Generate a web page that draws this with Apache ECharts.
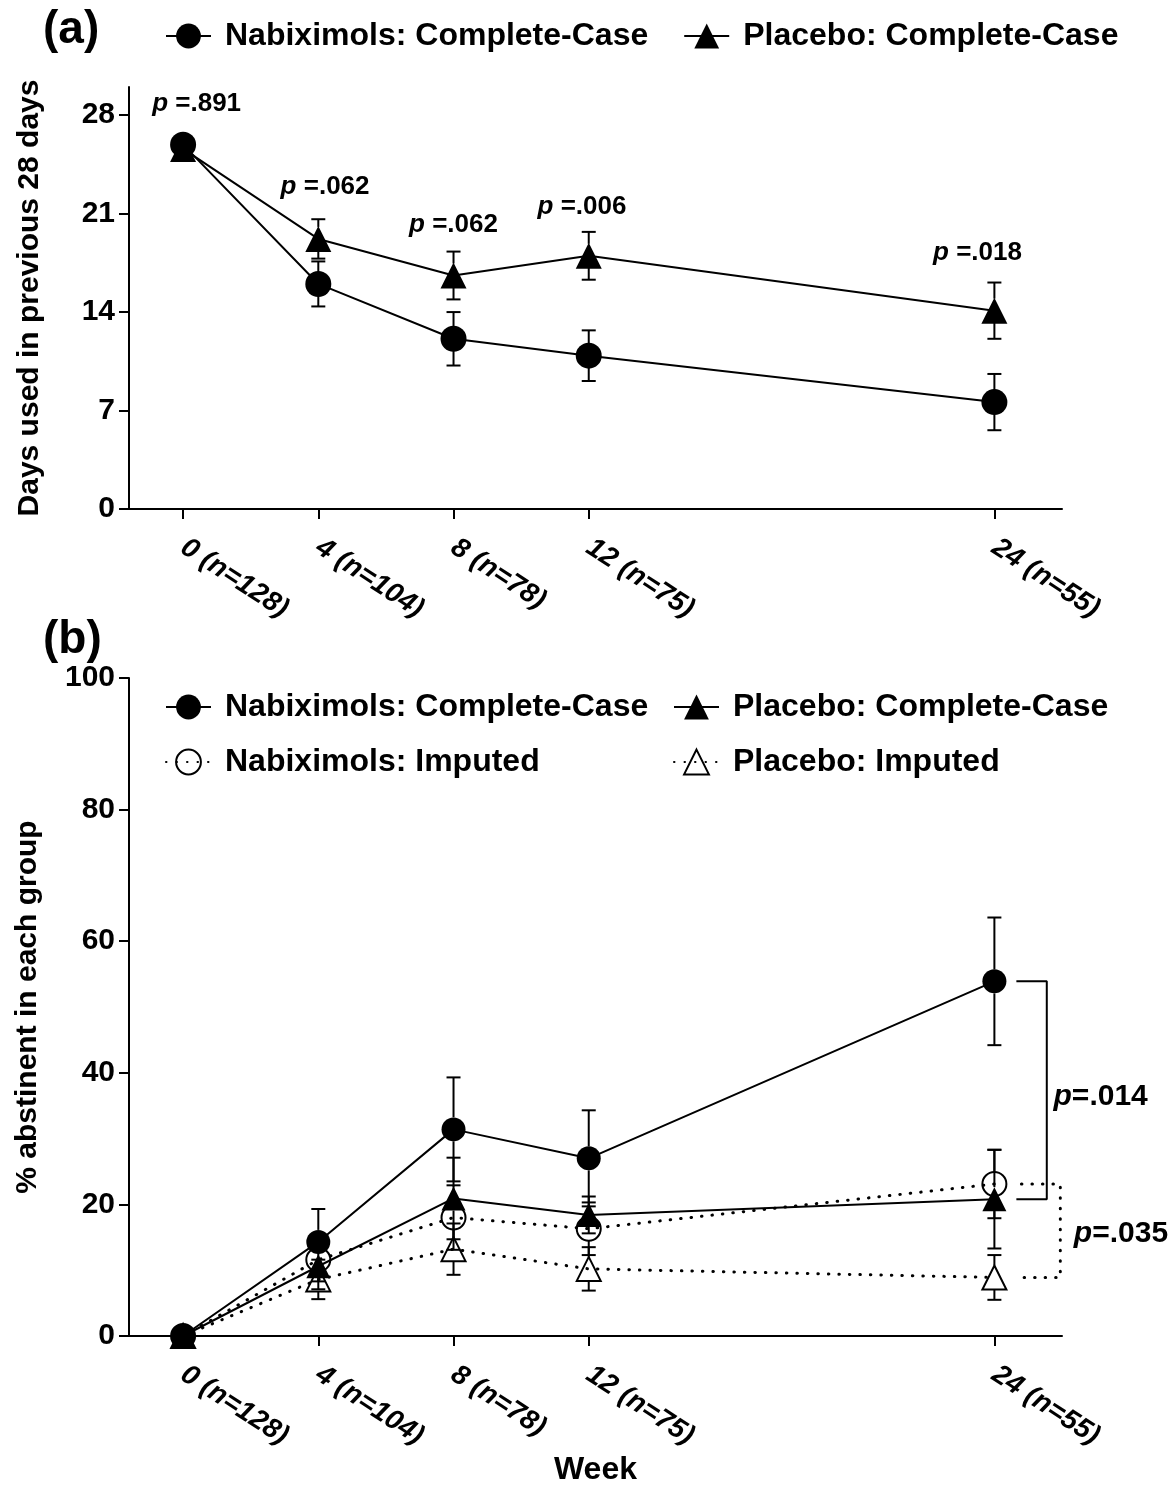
<!DOCTYPE html>
<html>
<head>
<meta charset="utf-8">
<script src="https://cdn.jsdelivr.net/npm/echarts@6/dist/echarts.min.js"></script>
<style>
  html, body { margin: 0; padding: 0; background: #fff; }
  #chart { width: 1169px; height: 1487px; }
</style>
</head>
<body>
<div id="chart"></div>
<script>
// weeks and tick labels
const weeks = [0, 4, 8, 12, 24];
const weekLabels = ['0 (n=128)', '4 (n=104)', '8 (n=78)', '12 (n=75)', '24 (n=55)'];

// (a) days used in previous 28 days
const daysNabi = [25.9, 16.0, 12.1, 10.9, 7.6];
const daysNabiErr = [0.6, 1.6, 1.9, 1.8, 2.0];
const daysPlacebo = [25.6, 19.2, 16.6, 18.0, 14.1];
const daysPlaceboErr = [0.6, 1.4, 1.7, 1.7, 2.0];
const daysTicks = [0, 7, 14, 21, 28];
// p-values and where they sit (week, days)
const daysPText = ['.891', '.062', '.062', '.006', '.018'];
const daysPWeek = [0.4, 4.2, 8.0, 11.8, 23.5];
const daysPY = [28.8, 22.9, 20.2, 21.5, 18.2];

// (b) % abstinent in each group
const abstNabiCC = [0, 14.3, 31.4, 27.0, 53.9];
const abstNabiCCErr = [0, 5.0, 7.9, 7.3, 9.7];
const abstPlaceboCC = [0, 10.6, 20.9, 18.4, 20.8];
const abstPlaceboCCErr = [0, 3.5, 6.2, 2.8, 7.5];
const abstNabiImp = [0, 11.6, 18.0, 16.3, 23.1];
const abstNabiImpErr = [0, 3.3, 4.9, 4.0, 5.2];
const abstPlaceboImp = [0, 8.6, 13.2, 10.2, 8.9];
const abstPlaceboImpErr = [0, 3.0, 3.9, 3.3, 3.4];
const abstPText = ['.014', '.035'];
const abstPWeek = [25.75, 26.35];
const abstPY = [36.3, 15.6];

const FONT = 'Liberation Sans, Arial, Helvetica, sans-serif';
const chart = echarts.init(document.getElementById('chart'), null, { renderer: 'canvas' });

const NAMES = {
    nabiCC: 'Nabiximols: Complete-Case',
    plaCC: 'Placebo: Complete-Case',
    nabiImp: 'Nabiximols: Imputed',
    plaImp: 'Placebo: Imputed'
};
const dotted = { color: '#000', width: 3, type: [0.5, 10], cap: 'round' };
const solid = { color: '#000', width: 2 };
const filled = { color: '#000' };
const hollow = { color: 'rgba(0,0,0,0)', borderColor: '#000', borderWidth: 2 };

/** line + markers */
const lineSeries = (name, idx, values, symbol, itemStyle, lineStyle, size) => ({
    name,
    type: 'line',
    xAxisIndex: idx,
    yAxisIndex: idx,
    data: weeks.map((w, i) => [w, values[i]]),
    symbol,
    symbolSize: size,
    itemStyle,
    lineStyle,
    emphasis: { disabled: true },
    z: 3
});

/** error bars, drawn from marker edge outward */
const errorSeries = (idx, values, errs) => ({
    type: 'custom',
    xAxisIndex: idx,
    yAxisIndex: idx,
    data: weeks.map((w, i) => [w, values[i], errs[i]]),
    renderItem: (params, api) => {
        const x = api.value(0), y = api.value(1), e = api.value(2);
        const c = api.coord([x, y]);
        const hi = api.coord([x, y + e]);
        const lo = api.coord([x, y - e]);
        const r = 12, cap = 7;
        const style = { stroke: '#000', lineWidth: 2 };
        const children = [];
        if (c[1] - hi[1] > r) {
            children.push({ type: 'line', shape: { x1: c[0], y1: c[1] - r, x2: c[0], y2: hi[1] }, style });
            children.push({ type: 'line', shape: { x1: c[0] - cap, y1: hi[1], x2: c[0] + cap, y2: hi[1] }, style });
        }
        if (lo[1] - c[1] > r) {
            children.push({ type: 'line', shape: { x1: c[0], y1: c[1] + r, x2: c[0], y2: lo[1] }, style });
            children.push({ type: 'line', shape: { x1: c[0] - cap, y1: lo[1], x2: c[0] + cap, y2: lo[1] }, style });
        }
        return { type: 'group', children };
    },
    z: 2
});

/** p-value labels */
const pLabelSeries = (idx, xs, ys, texts, position, size, spaced) => ({
    type: 'scatter',
    xAxisIndex: idx,
    yAxisIndex: idx,
    symbolSize: 0,
    clip: false,
    silent: true,
    itemStyle: { opacity: 1, color: '#000' },
    data: xs.map((x, i) => [x, ys[i], texts[i]]),
    label: {
        show: true,
        position,
        distance: 0,
        color: '#000',
        formatter: p => '{i|p}{b|' + (spaced ? ' =' : '=') + p.value[2] + '}',
        rich: {
            i: { fontFamily: FONT, fontSize: size, fontWeight: 'bold', fontStyle: 'italic', color: '#000' },
            b: { fontFamily: FONT, fontSize: size, fontWeight: 'bold', color: '#000' }
        }
    }
});

// bracket for the week-24 comparisons
const last = weeks.length - 1;
const bracket = (a, b, lineStyle, x1, x2) => ({
    type: 'line',
    xAxisIndex: 1,
    yAxisIndex: 1,
    clip: false,
    silent: true,
    symbol: 'none',
    lineStyle,
    data: [[x1, a], [x2, a], [x2, b], [x1, b]]
});

const xAxisBase = idx => ({
    type: 'value',
    gridIndex: idx,
    min: -1.6,
    max: 26,
    axisLine: { onZero: false, lineStyle: { color: '#000', width: 2 } },
    axisTick: { customValues: weeks, length: 10, lineStyle: { color: '#000', width: 2 } },
    axisLabel: {
        customValues: weeks,
        formatter: v => weekLabels[weeks.indexOf(v)] || '',
        rotate: -33,
        margin: 36,
        color: '#000',
        fontFamily: FONT,
        fontSize: 28,
        fontWeight: 'bold',
        fontStyle: 'italic'
    },
    splitLine: { show: false }
});

const yAxisStyle = {
    axisLine: { show: true, onZero: false, lineStyle: { color: '#000', width: 2 } },
    axisLabel: { margin: 14, color: '#000', fontFamily: FONT, fontSize: 30, fontWeight: 'bold' },
    splitLine: { show: false },
    nameLocation: 'middle',
    nameTextStyle: { color: '#000', fontFamily: FONT, fontSize: 30, fontWeight: 'bold' }
};

const legendBase = {
    itemWidth: 45,
    itemHeight: 31,
    selectedMode: false,
    textStyle: { color: '#000', fontFamily: FONT, fontSize: 32, fontWeight: 'bold', padding: [0, 0, 0, 9] }
};

const options = {
    animation: false,
    backgroundColor: '#fff',
    title: [
        { text: '(a)', left: 38, top: 2, textStyle: { fontFamily: FONT, fontSize: 46, fontWeight: 'bold', color: '#000' } },
        { text: '(b)', left: 38, top: 612, textStyle: { fontFamily: FONT, fontSize: 46, fontWeight: 'bold', color: '#000' } }
    ],
    legend: [
        Object.assign({}, legendBase, { left: 160, top: 15, itemGap: 35, data: [NAMES.nabiCC, NAMES.plaCC] }),
        Object.assign({}, legendBase, { left: 160, top: 686, orient: 'vertical', itemGap: 23, data: [NAMES.nabiCC, NAMES.nabiImp] }),
        Object.assign({}, legendBase, { left: 668, top: 686, orient: 'vertical', itemGap: 23, data: [NAMES.plaCC, NAMES.plaImp] })
    ],
    grid: [
        { left: 129, right: 107, top: 87, height: 422 },
        { left: 129, right: 107, top: 678, height: 659 }
    ],
    xAxis: [
        xAxisBase(0),
        Object.assign(xAxisBase(1), {
            name: 'Week',
            nameLocation: 'middle',
            nameGap: 118,
            nameTextStyle: { color: '#000', fontFamily: FONT, fontSize: 32, fontWeight: 'bold' }
        })
    ],
    yAxis: [
        Object.assign({}, yAxisStyle, {
            type: 'value',
            gridIndex: 0,
            min: 0,
            max: 30,
            name: 'Days used in previous 28 days',
            nameGap: 84,
            axisTick: { customValues: daysTicks, length: 10, lineStyle: { color: '#000', width: 2 } },
            axisLabel: Object.assign({}, yAxisStyle.axisLabel, { customValues: daysTicks })
        }),
        Object.assign({}, yAxisStyle, {
            type: 'value',
            gridIndex: 1,
            min: 0,
            max: 100,
            interval: 20,
            name: '% abstinent in each group',
            nameGap: 86,
            axisTick: { length: 10, lineStyle: { color: '#000', width: 2 } }
        })
    ],
    series: [
        // (a)
        errorSeries(0, daysPlacebo, daysPlaceboErr),
        errorSeries(0, daysNabi, daysNabiErr),
        lineSeries(NAMES.plaCC, 0, daysPlacebo, 'triangle', filled, solid, 26),
        lineSeries(NAMES.nabiCC, 0, daysNabi, 'circle', filled, solid, 26),
        pLabelSeries(0, daysPWeek, daysPY, daysPText, 'inside', 26, true),
        // (b)
        errorSeries(1, abstPlaceboImp, abstPlaceboImpErr),
        errorSeries(1, abstNabiImp, abstNabiImpErr),
        errorSeries(1, abstPlaceboCC, abstPlaceboCCErr),
        errorSeries(1, abstNabiCC, abstNabiCCErr),
        lineSeries(NAMES.plaImp, 1, abstPlaceboImp, 'triangle', hollow, dotted, 24),
        lineSeries(NAMES.nabiImp, 1, abstNabiImp, 'circle', hollow, dotted, 24),
        lineSeries(NAMES.plaCC, 1, abstPlaceboCC, 'triangle', filled, solid, 24),
        lineSeries(NAMES.nabiCC, 1, abstNabiCC, 'circle', filled, solid, 24),
        bracket(abstNabiCC[last], abstPlaceboCC[last], solid, 24.65, 25.55),
        bracket(abstNabiImp[last], abstPlaceboImp[last], dotted, 24.8, 25.95),
        pLabelSeries(1, abstPWeek, abstPY, abstPText, 'right', 30, false)
    ]
};

chart.setOption(options);
</script>
</body>
</html>
